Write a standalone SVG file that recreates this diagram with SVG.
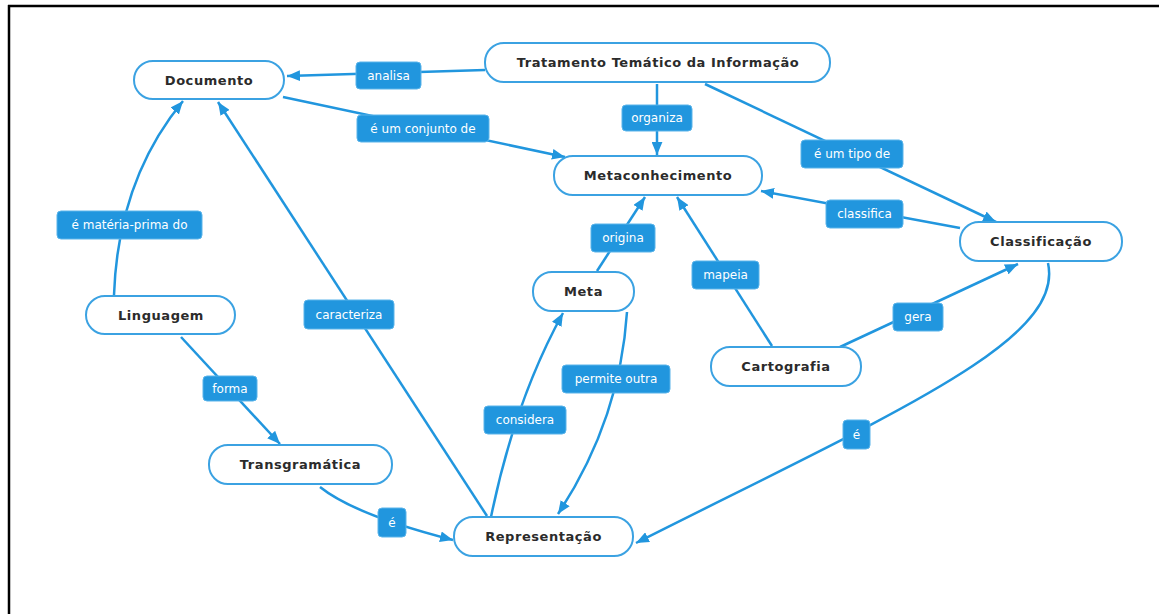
<svg xmlns="http://www.w3.org/2000/svg" width="1159" height="614" viewBox="0 0 1159 614">
<style>
.node rect{fill:#fff;stroke:#3BA2E2;stroke-width:2}
.node text{font-family:"DejaVu Sans",Verdana,sans-serif;font-weight:bold;font-size:13px;letter-spacing:0.55px;fill:#2b2b2b;text-anchor:middle;dominant-baseline:central}
.conn path{fill:none;stroke:#2196DE;stroke-width:2.5}
.lbl rect{fill:#2196DE;stroke:#5AB4EA;stroke-width:1}
.lbl text{font-family:"DejaVu Sans",Verdana,sans-serif;font-size:12px;fill:#fff;text-anchor:middle;dominant-baseline:central}
</style>
<defs>
<marker id="ah" viewBox="0 0 12 10" refX="12" refY="5" markerWidth="13" markerHeight="11" markerUnits="userSpaceOnUse" orient="auto">
<path d="M0,0 L12,5 L0,10 z" fill="#2196DE"/>
</marker>
</defs>
<rect width="1159" height="614" fill="#fff"/>
<g id="frame" stroke="#000" stroke-width="2.5">
<line x1="8" y1="6" x2="1159" y2="6"/>
<line x1="9" y1="5" x2="9" y2="614"/>
</g>
<g id="connectors" class="conn">
<path d="M485,70 L287,76" marker-end="url(#ah)"/>
<path d="M283,97 L565,157" marker-end="url(#ah)"/>
<path d="M657,84 L657,155" marker-end="url(#ah)"/>
<path d="M705,84 L996,222" marker-end="url(#ah)"/>
<path d="M960,228 L761,191" marker-end="url(#ah)"/>
<path d="M597,271 L645,197" marker-end="url(#ah)"/>
<path d="M772,346 L677,197" marker-end="url(#ah)"/>
<path d="M840,347 L1018,264" marker-end="url(#ah)"/>
<path d="M114,295 Q118,180 183,101" marker-end="url(#ah)"/>
<path d="M487,516 L218,102" marker-end="url(#ah)"/>
<path d="M181,337 L280,444" marker-end="url(#ah)"/>
<path d="M320,487 Q355,515 453,540" marker-end="url(#ah)"/>
<path d="M491,517 Q515,400 563,313" marker-end="url(#ah)"/>
<path d="M627,312 Q620,420 558,514" marker-end="url(#ah)"/>
<path d="M1048,263 C1065,340 900,410 636,543" marker-end="url(#ah)"/>
</g>
<g id="labels" class="lbl">
<rect x="356" y="62" width="65" height="27" rx="4"/><text x="388.5" y="75.5">analisa</text>
<rect x="357" y="115" width="132" height="27" rx="4"/><text x="423" y="128.5">é um conjunto de</text>
<rect x="622" y="105" width="70" height="26" rx="4"/><text x="657" y="118">organiza</text>
<rect x="801" y="140" width="102" height="28" rx="4"/><text x="852" y="154">é um tipo de</text>
<rect x="826" y="200" width="77" height="28" rx="4"/><text x="864.5" y="214">classifica</text>
<rect x="57" y="211" width="145" height="28" rx="4"/><text x="129.5" y="225">é matéria-prima do</text>
<rect x="591" y="224" width="64" height="28" rx="4"/><text x="623" y="238">origina</text>
<rect x="692" y="261" width="67" height="28" rx="4"/><text x="725.5" y="275">mapeia</text>
<rect x="304" y="300" width="90" height="29" rx="4"/><text x="349" y="314.5">caracteriza</text>
<rect x="893" y="303" width="50" height="28" rx="4"/><text x="918" y="317">gera</text>
<rect x="203" y="376" width="54" height="25" rx="4"/><text x="230" y="388.5">forma</text>
<rect x="562" y="365" width="108" height="28" rx="4"/><text x="616" y="379">permite outra</text>
<rect x="484" y="406" width="82" height="28" rx="4"/><text x="525" y="420">considera</text>
<rect x="378" y="508" width="28" height="29" rx="4"/><text x="392" y="522.5">é</text>
<rect x="843" y="420" width="27" height="29" rx="4"/><text x="856.5" y="434.5">é</text>
</g>
<g id="n-documento" class="node"><rect x="134" y="61" width="150" height="38" rx="19"/><text x="209" y="80">Documento</text></g>
<g id="n-tratamento" class="node"><rect x="485" y="43" width="345" height="39" rx="19"/><text x="658" y="62.5">Tratamento Temático da Informação</text></g>
<g id="n-metaconhecimento" class="node"><rect x="554" y="156" width="208" height="39" rx="19"/><text x="658" y="175.5">Metaconhecimento</text></g>
<g id="n-classificacao" class="node"><rect x="960" y="222" width="162" height="39" rx="19"/><text x="1041" y="241.5">Classificação</text></g>
<g id="n-linguagem" class="node"><rect x="86" y="296" width="149" height="38" rx="19"/><text x="161" y="315">Linguagem</text></g>
<g id="n-meta" class="node"><rect x="533" y="272" width="101" height="39" rx="19"/><text x="583.5" y="291.5">Meta</text></g>
<g id="n-cartografia" class="node"><rect x="711" y="347" width="150" height="39" rx="19"/><text x="786" y="366.5">Cartografia</text></g>
<g id="n-transgramatica" class="node"><rect x="209" y="445" width="183" height="39" rx="19"/><text x="300.5" y="464.5">Transgramática</text></g>
<g id="n-representacao" class="node"><rect x="454" y="517" width="179" height="39" rx="19"/><text x="543.5" y="536.5">Representação</text></g>
</svg>
